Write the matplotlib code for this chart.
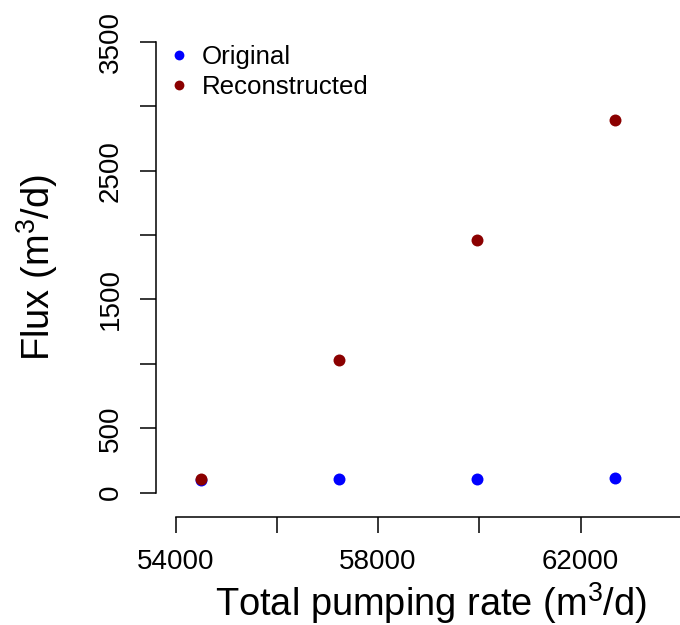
import numpy as np
import matplotlib
matplotlib.use("Agg")
import matplotlib.pyplot as plt

plt.rcParams['font.family'] = ['Liberation Sans', 'DejaVu Sans']
plt.rcParams['mathtext.fontset'] = 'custom'
plt.rcParams['mathtext.rm'] = 'Liberation Sans'
plt.rcParams['mathtext.default'] = 'regular'

# data
pumping = [54500, 57230, 59950, 62680]
flux_original = [100, 104, 109, 114]
flux_reconstructed = [104, 1033, 1964, 2891]

x_ticks = [54000, 56000, 58000, 60000, 62000, 64000]
x_ticklabels = ['54000', '', '58000', '', '62000', '']
y_ticks = [0, 500, 1000, 1500, 2000, 2500, 3000, 3500]
y_ticklabels = ['0', '500', '', '1500', '', '2500', '', '3500']

W, H = 680, 625
fig = plt.figure(figsize=(W / 100, H / 100), dpi=100)

# axes box in pixels (left, right, top, bottom)
L, R, T, B = 155.7, 690, 20, 517
ax = fig.add_axes([L / W, 1 - B / H, (R - L) / W, (B - T) / H])

ax.plot(pumping, flux_original, 'o', color='#0000FF', ms=8.6, mew=0, label='Original')
ax.plot(pumping, flux_reconstructed, 'o', color='#8B0000', ms=8.6, mew=0, label='Reconstructed')

ax.set_xlim(53609, 64158)
ax.set_ylim(-188.7, 3670)

for s in ['top', 'right']:
    ax.spines[s].set_visible(False)
ax.spines['bottom'].set_bounds(54000, 64000)
ax.spines['left'].set_bounds(0, 3500)
for s in ['bottom', 'left']:
    ax.spines[s].set_linewidth(1.1)
    ax.spines[s].set_color('black')

ax.set_xticks(x_ticks)
ax.set_xticklabels(x_ticklabels)
ax.set_yticks(y_ticks)
ax.set_yticklabels(y_ticklabels, rotation=90, va='center')
ax.tick_params(axis='both', direction='out', length=11.8, width=1.1, labelsize=20)
ax.tick_params(axis='x', pad=11.5)
ax.tick_params(axis='y', pad=11)

fig.text(431 / W, 1 - 603 / H, 'Total pumping rate (m$^3$/d)', fontsize=27.4,
         ha='center', va='center')
fig.text(37 / W, 1 - 268 / H, 'Flux (m$^3$/d)', fontsize=27.4, rotation=90,
         ha='center', va='center')

ax.legend(loc='upper left', bbox_to_anchor=(168.7 / W, 1 - 45 / H),
          bbox_transform=fig.transFigure, frameon=False, fontsize=18.6,
          markerscale=0.82, handlelength=0.8, handletextpad=0.49,
          borderpad=0, borderaxespad=0, labelspacing=0.24)

fig.savefig('out.png', dpi=100)
